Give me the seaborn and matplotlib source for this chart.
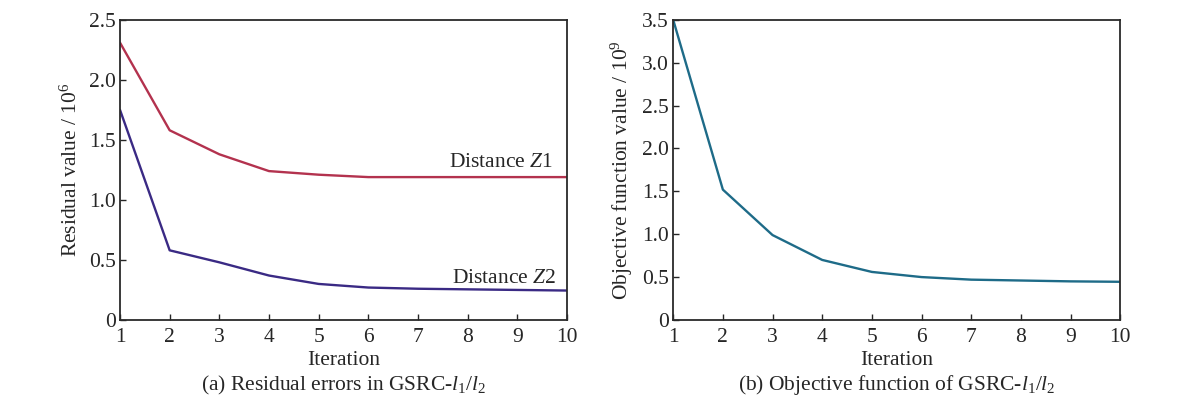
import numpy as np
import pandas as pd
import matplotlib
matplotlib.use("Agg")
import matplotlib.pyplot as plt
import seaborn as sns

sns.set_style("ticks")
plt.rcParams["font.family"] = ["Liberation Serif", "DejaVu Serif"]
plt.rcParams["mathtext.fontset"] = "custom"
plt.rcParams["mathtext.rm"] = "Liberation Serif"
plt.rcParams["mathtext.it"] = "Liberation Serif:italic"

iterations = list(range(1, 11))
z1_residual = [2.31, 1.58, 1.38, 1.24, 1.21, 1.19, 1.19, 1.19, 1.19, 1.19]
z2_residual = [1.75, 0.58, 0.48, 0.37, 0.30, 0.27, 0.26, 0.255, 0.25, 0.245]
objective = [3.5, 1.52, 0.99, 0.70, 0.56, 0.50, 0.47, 0.46, 0.45, 0.445]

left_yticks = [0, 0.5, 1.0, 1.5, 2.0, 2.5]
left_yticklabels = ["0", "0.5", "1.0", "1.5", "2.0", "2.5"]
right_yticks = [0, 0.5, 1.0, 1.5, 2.0, 2.5, 3.0, 3.5]
right_yticklabels = ["0", "0.5", "1.0", "1.5", "2.0", "2.5", "3.0", "3.5"]

df_res = pd.DataFrame({"iteration": iterations, "z1": z1_residual, "z2": z2_residual})
df_obj = pd.DataFrame({"iteration": iterations, "obj": objective})

fig = plt.figure(figsize=(12, 4.05), dpi=100)
ax1 = fig.add_axes([0.1, 0.21, 0.3725, 0.741])
ax2 = fig.add_axes([0.561, 0.21, 0.3725, 0.741])

FS = 15.5
CAP_Y = 1 - 385 / 405

# ---------------------------------------------------
# (a) residual errors
# ---------------------------------------------------
sns.lineplot(data=df_res, x="iteration", y="z1", ax=ax1, color="#b3324e", linewidth=1.7)
sns.lineplot(data=df_res, x="iteration", y="z2", ax=ax1, color="#3a2a84", linewidth=1.7)
ax1.set_xlim(1, 10)
ax1.set_ylim(0, 2.5)
ax1.set_xticks(iterations)
ax1.set_yticks(left_yticks)
ax1.set_yticklabels(left_yticklabels)
ax1.set_xlabel("Iteration", fontsize=FS, labelpad=3)
ax1.set_ylabel(r"Residual value / 10$^6$", fontsize=FS, labelpad=5)
ax1.text(9.72, 1.23, r"Distance $Z$1", ha="right", va="bottom", fontsize=FS)
ax1.text(9.78, 0.27, r"Distance $Z$2", ha="right", va="bottom", fontsize=FS)
fig.text(0.1 + 0.3725 / 2, CAP_Y, r"(a) Residual errors in GSRC-$l_1$/$l_2$",
         ha="center", va="center", fontsize=FS)

# ---------------------------------------------------
# (b) objective function
# ---------------------------------------------------
sns.lineplot(data=df_obj, x="iteration", y="obj", ax=ax2, color="#1e6b88", linewidth=1.7)
ax2.set_xlim(1, 10)
ax2.set_ylim(0, 3.5)
ax2.set_xticks(iterations)
ax2.set_yticks(right_yticks)
ax2.set_yticklabels(right_yticklabels)
ax2.set_xlabel("Iteration", fontsize=FS, labelpad=3)
ax2.set_ylabel(r"Objective function value / 10$^9$", fontsize=FS, labelpad=5)
fig.text(0.561 + 0.3725 / 2, CAP_Y, r"(b) Objective function of GSRC-$l_1$/$l_2$",
         ha="center", va="center", fontsize=FS)

for ax in (ax1, ax2):
    ax.tick_params(direction="in", length=4, width=1, labelsize=FS)
    ax.tick_params(axis="x", pad=6)
    ax.tick_params(axis="y", pad=3)
    for s in ax.spines.values():
        s.set_linewidth(1.3)
        s.set_color("#2a2a2a")

fig.savefig("out.png", dpi=100)
